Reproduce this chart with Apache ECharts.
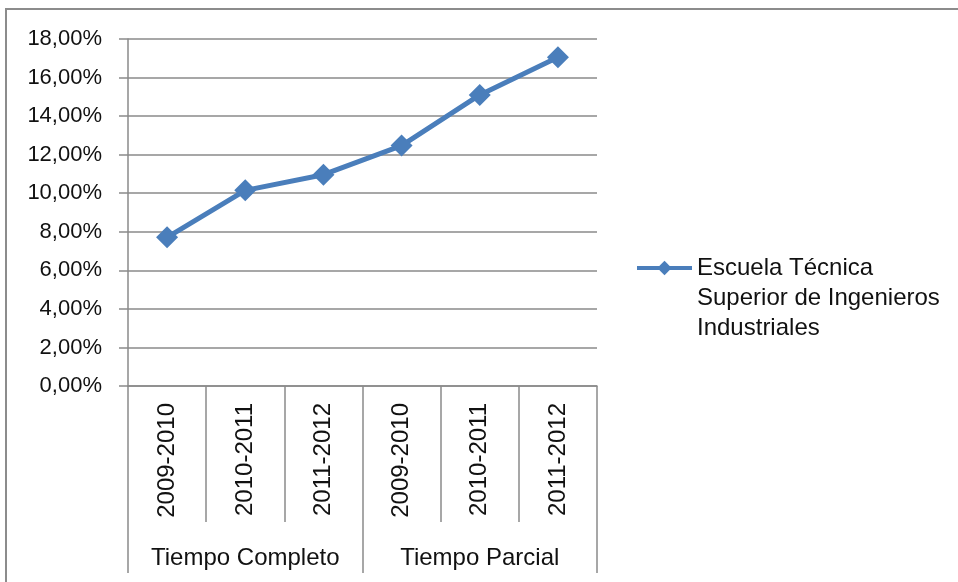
<!DOCTYPE html>
<html>
<head>
<meta charset="utf-8">
<script src="https://cdn.jsdelivr.net/npm/echarts@6/dist/echarts.min.js"></script>
<style>html,body{margin:0;padding:0;background:#fff}#c{width:958px;height:582px}</style>
</head>
<body>
<div id="c"></div>
<script>
var years = ['2009-2010', '2010-2011', '2011-2012', '2009-2010', '2010-2011', '2011-2012'];
var groups = ['Tiempo Completo', 'Tiempo Parcial'];
var seriesName = 'Escuela Técnica Superior de Ingenieros Industriales';
var legendLines = ['Escuela Técnica', 'Superior de Ingenieros', 'Industriales'];
var values = [0.0771, 0.1015, 0.1096, 0.1247, 0.1510, 0.1705];

var FONT = 'Liberation Sans';
var GRAY = '#8a8a8a';
var TXT = '#111';
var BLUE = '#4A7EBB';

var chart = echarts.init(document.getElementById('c'), null, {renderer: 'canvas'});
chart.setOption({
  backgroundColor: '#fff',
  animation: false,
  graphic: [{
    type: 'rect',
    shape: {x: 6, y: 9, width: 1000, height: 700},
    style: {fill: 'none', stroke: '#8c8c8c', lineWidth: 2},
    silent: true
  }],
  grid: {left: 128, right: 361, top: 39, bottom: 196, containLabel: false},
  legend: {
    show: true,
    left: 635,
    top: 193,
    padding: 0,
    itemWidth: 55,
    itemHeight: 18,
    itemGap: 0,
    data: [seriesName],
    lineStyle: {width: 4},
    formatter: function () {
      return '\n\n' + legendLines.join('\n');
    },
    textStyle: {fontFamily: FONT, fontSize: 24, color: TXT, lineHeight: 30}
  },
  xAxis: [{
    type: 'category',
    data: years,
    position: 'bottom',
    boundaryGap: true,
    axisLine: {show: true, lineStyle: {color: GRAY, width: 1.5}},
    axisTick: {show: true, interval: 0, length: 136, lineStyle: {color: GRAY, width: 1.5}},
    axisLabel: {interval: 0, rotate: 90, margin: 17, fontFamily: FONT, fontSize: 24, color: TXT},
    splitLine: {show: false}
  }, {
    type: 'category',
    data: groups,
    position: 'bottom',
    boundaryGap: true,
    axisLine: {show: false},
    axisTick: {show: true, interval: 0, length: 187, lineStyle: {color: GRAY, width: 1.5}},
    axisLabel: {interval: 0, margin: 160, fontFamily: FONT, fontSize: 24, color: TXT},
    splitLine: {show: false}
  }],
  yAxis: {
    type: 'value',
    min: 0,
    max: 0.18,
    interval: 0.02,
    axisLine: {show: true, lineStyle: {color: GRAY, width: 1.5}},
    axisTick: {show: true, length: 9, lineStyle: {color: GRAY, width: 1.5}},
    splitLine: {show: true, lineStyle: {color: GRAY, width: 1.5}},
    axisLabel: {
      margin: 26,
      fontFamily: FONT, fontSize: 22, color: TXT,
      formatter: function (v) { return (v * 100).toFixed(2).replace('.', ',') + '%'; }
    }
  },
  series: [{
    name: seriesName,
    type: 'line',
    xAxisIndex: 0,
    data: values,
    symbol: 'diamond',
    symbolSize: 22,
    lineStyle: {color: BLUE, width: 5},
    itemStyle: {color: BLUE},
    emphasis: {disabled: true}
  }]
});
</script>
</body>
</html>
